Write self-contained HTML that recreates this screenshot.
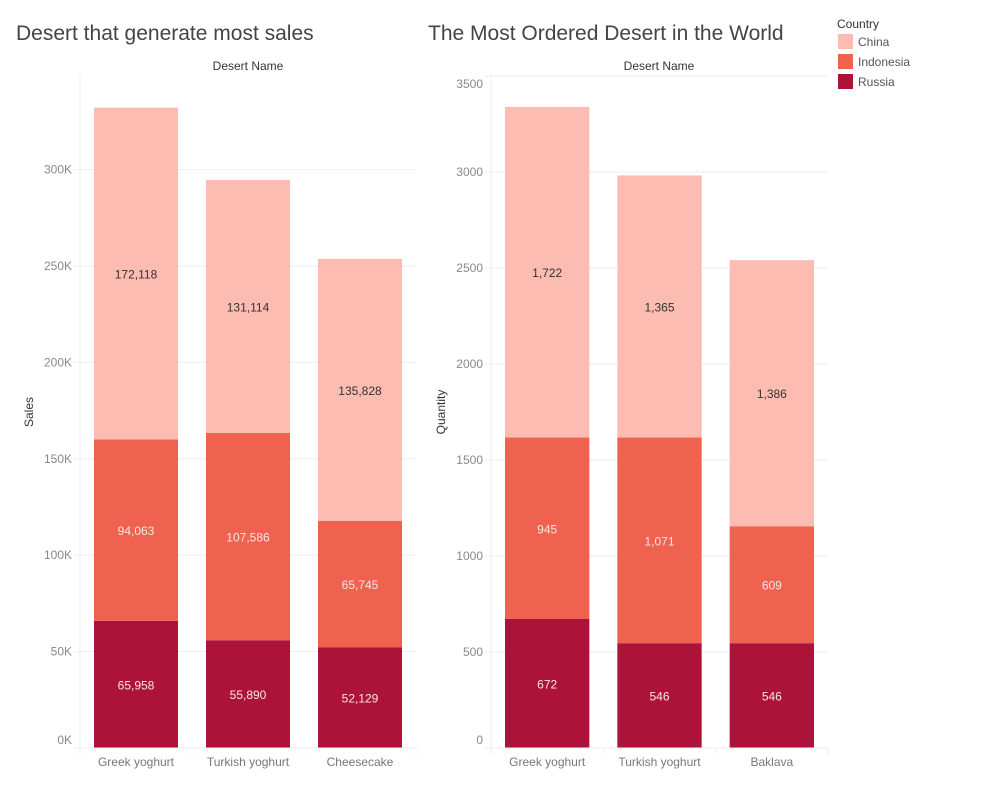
<!DOCTYPE html>
<html><head><meta charset="utf-8"><style>
body{margin:0;background:#fff;font-family:"Liberation Sans",sans-serif}
svg text{font-family:"Liberation Sans",sans-serif}
</style></head><body>
<svg id="s" width="1000" height="800">
<text x="16" y="40" font-size="21" fill="#444">Desert that generate most sales</text>
<text x="428" y="40" font-size="21" fill="#444">The Most Ordered Desert in the World</text>
<text x="248" y="70" font-size="12" fill="#333" text-anchor="middle">Desert Name</text>
<text x="659" y="70" font-size="12" fill="#333" text-anchor="middle">Desert Name</text>
<text transform="translate(33,412) rotate(-90)" font-size="12" fill="#333" text-anchor="middle">Sales</text>
<text transform="translate(445,412) rotate(-90)" font-size="12" fill="#333" text-anchor="middle">Quantity</text>
<g>
<text x="837" y="28" font-size="12" fill="#333">Country</text>
<rect x="838" y="34" width="15" height="15" fill="#fdbcb1"/>
<text x="858" y="46" font-size="12" fill="#555">China</text>
<rect x="838" y="54" width="15" height="15" fill="#ef6250"/>
<text x="858" y="66" font-size="12" fill="#555">Indonesia</text>
<rect x="838" y="74" width="15" height="15" fill="#ad1339"/>
<text x="858" y="86" font-size="12" fill="#555">Russia</text>
</g>
</svg>
<script>
const leftCategories=["Greek yoghurt","Turkish yoghurt","Cheesecake"];
const leftRussia=[65958,55890,52129];
const leftIndonesia=[94063,107586,65745];
const leftChina=[172118,131114,135828];
const leftTicks=[0,50000,100000,150000,200000,250000,300000];
const rightCategories=["Greek yoghurt","Turkish yoghurt","Baklava"];
const rightRussia=[672,546,546];
const rightIndonesia=[945,1071,609];
const rightChina=[1722,1365,1386];
const rightTicks=[0,500,1000,1500,2000,2500,3000,3500];
const colors=["#ad1339","#ef6250","#fdbcb1"];
const names=["russia","indonesia","china"];
const svg=document.getElementById('s');
const NS="http://www.w3.org/2000/svg";
function mk(t,a,txt){const e=document.createElementNS(NS,t);for(const k in a)e.setAttribute(k,a[k]);if(txt!=null)e.textContent=txt;svg.appendChild(e);return e;}
function chart(id,x0,x1,base,pxPer,unit,cats,series,ticks,fmtTick){
  const y=v=>base-v/unit*pxPer;
  ticks.forEach(t=>{
    if(y(t)>=74){
      const g=mk('line',{x1:x0-6,x2:x1,y1:y(t),y2:y(t),stroke:'#eee','stroke-width':1});
      
      
    }
    let ly=y(t)+4;
    if(t===0) ly=744;
    if(ly<88) ly=88;
    const l=mk('text',{x:x0-8,y:ly,'font-size':12,fill:'#888','text-anchor':'end'},fmtTick(t));
    
    
  });
  const ax=mk('line',{x1:x0,x2:x0,y1:74,y2:base+6,stroke:'#eee'});
  
  
  const band=(x1-x0)/cats.length;
  cats.forEach((c,i)=>{
    const bx=x0+band*i+14,bw=band-28;
    const tk=mk('line',{x1:x0+band*(i+1),x2:x0+band*(i+1),y1:base,y2:base+6,stroke:'#eee'});
    
    
    let acc=0;
    series.forEach((s,j)=>{
      const v=s[i];
      const r=mk('rect',{x:bx,y:y(acc+v),width:bw,height:y(acc)-y(acc+v),fill:colors[j]});
      
      
      const t=mk('text',{x:bx+bw/2,y:(y(acc)+y(acc+v))/2+5,'font-size':12,fill:j==2?'#333':'#f5e6e6','text-anchor':'middle'},v.toLocaleString('en-US'));
      
      
      acc+=v;
    });
    const cl=mk('text',{x:bx+bw/2,y:base+18,'font-size':12,fill:'#777','text-anchor':'middle'},c);
    
    
  });
  const bl=mk('line',{x1:x0-6,x2:x1,y1:base,y2:base,stroke:'#eee'});
  
  
}
chart('sales',80,416,748,96.4,50000,leftCategories,[leftRussia,leftIndonesia,leftChina],leftTicks,t=>(t/1000)+'K');
chart('quantity',491,828,748,96,500,rightCategories,[rightRussia,rightIndonesia,rightChina],rightTicks,t=>String(t));
</script>
</body></html>
